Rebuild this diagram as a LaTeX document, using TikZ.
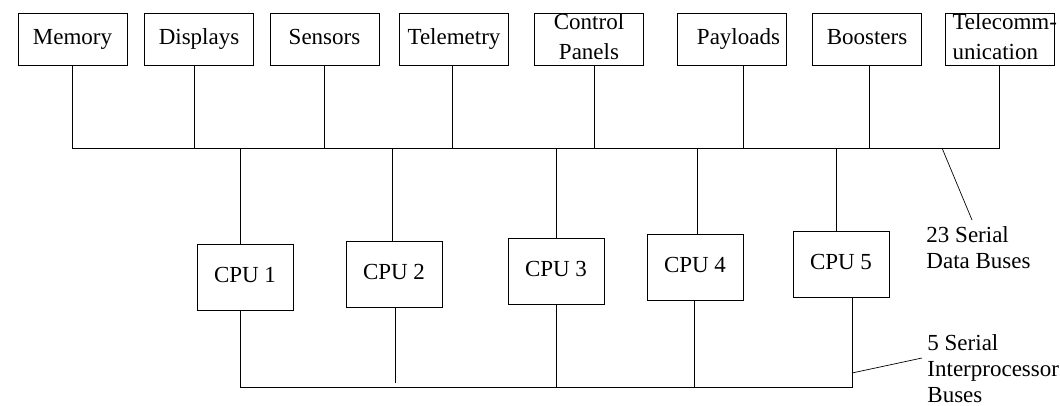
\documentclass[tikz,border=0pt]{standalone}
\usepackage{fontspec}
\setmainfont{Liberation Serif}

\begin{document}
\begin{tikzpicture}[x=1pt,y=-1pt,line width=0.9pt,
    unit/.style={draw,rectangle,minimum width=109pt,minimum height=52pt,inner sep=0pt,text depth=5pt,align=center,font=\fontsize{23}{30}\selectfont},
    cpu/.style={draw,rectangle,minimum width=96pt,minimum height=66pt,inner sep=0pt,text depth=5pt,font=\fontsize{23}{26}\selectfont},
    note/.style={anchor=north west,inner sep=0pt,align=left,font=\fontsize{23}{26}\selectfont}]

    \useasboundingbox (0,0) rectangle (1060,406);

    % The units on the data buses
    \node [unit] at (72.5,39) (mem) {Memory};
    \node [unit] at (199,39) (dis) {Displays};
    \node [unit] at (324.5,39) (sen) {Sensors};
    \node [unit] at (454,39) (tlm) {Telemetry};
    \node [unit] at (589,39) (cp) {Control\\Panels};
    \node [unit] at (731.5,39) (pay) {\hspace*{14pt}Payloads};
    \node [unit] at (867,39) (boo) {Boosters};
    \node [unit,align=left] at (999.5,39) (tcm) {\hspace*{3pt}\makebox[97pt][l]{Telecomm-}\\\hspace*{3pt}unication};

    % The processors
    \node [cpu] at (245,277) (c1) {CPU 1};
    \node [cpu] at (394,274) (c2) {CPU 2};
    \node [cpu] at (556,271) (c3) {CPU 3};
    \node [cpu] at (695,267) (c4) {CPU 4};
    \node [cpu] at (841,264) (c5) {CPU 5};

    % Bus levels and notes
    \coordinate (db) at (0,148);
    \coordinate (ib) at (0,387);
    \node [note] at (926,226.3) (dbnote) {23 Serial\\Data Buses};
    \node [note] at (927,334.3) (ibnote) {5 Serial\\Interprocessor\\Buses};
    \coordinate (dbl) at (942,148);
    \coordinate (dbtip) at (972,220);
    \coordinate (ibl) at (852,373);
    \coordinate (ibtip) at (922,358);

    % Data buses
    \draw (mem.south) -- (mem.south |- db) -- (tcm.south |- db) -- (tcm.south);
    \path[draw]
    ([xshift=-5pt]dis.south) edge ([xshift=-5pt]dis.south |- db)
    (sen.south) edge (sen.south |- db)
    ([xshift=-2pt]tlm.south) edge ([xshift=-2pt]tlm.south |- db)
    ([xshift=5pt]cp.south) edge ([xshift=5pt]cp.south |- db)
    ([xshift=11.5pt]pay.south) edge ([xshift=11.5pt]pay.south |- db)
    ([xshift=2pt]boo.south) edge ([xshift=2pt]boo.south |- db)
    ([xshift=-5pt]c1.north) edge ([xshift=-5pt]c1.north |- db)
    ([xshift=-2pt]c2.north) edge ([xshift=-2pt]c2.north |- db)
    (c3.north) edge (c3.north |- db)
    ([xshift=2pt]c4.north) edge ([xshift=2pt]c4.north |- db)
    ([xshift=-5pt]c5.north) edge ([xshift=-5pt]c5.north |- db)
    ;

    % Interprocessor buses
    \draw ([xshift=-5pt]c1.south) -- ([xshift=-5pt]c1.south |- ib) -- ([xshift=11pt]c5.south |- ib) -- ([xshift=11pt]c5.south);
    \path[draw]
    ([xshift=1pt]c2.south) edge ++(0,76)
    (c3.south) edge (c3.south |- ib)
    ([xshift=-1pt]c4.south) edge ([xshift=-1pt]c4.south |- ib)
    ;

    % Leaders
    \draw[line width=0.7pt] (dbl) -- (dbtip);
    \draw[line width=0.7pt] (ibl) -- (ibtip);

\end{tikzpicture}
\end{document}
